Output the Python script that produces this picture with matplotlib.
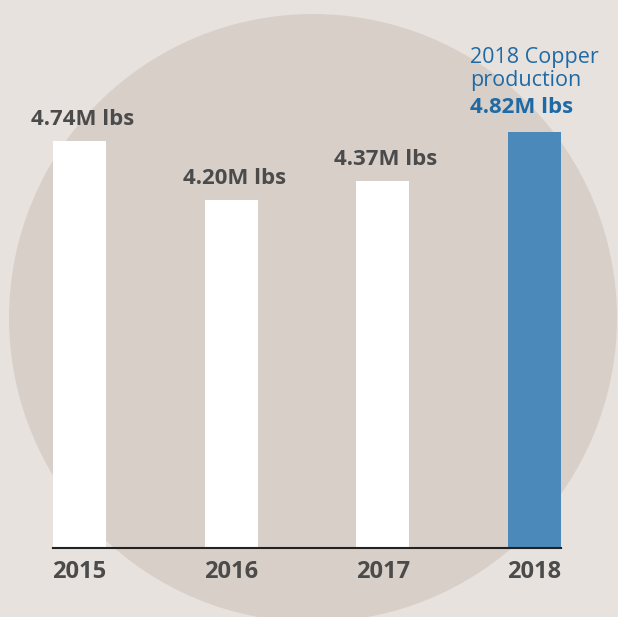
import matplotlib.pyplot as plt
from matplotlib.patches import Circle

years = ['2015', '2016', '2017', '2018']
production = [4.74, 4.20, 4.37, 4.82]  # million lbs
value_labels = ['4.74M lbs', '4.20M lbs', '4.37M lbs', '4.82M lbs']
bar_colors = ['white', 'white', 'white', '#4a89b9']

bg = '#e7e2de'
circle_col = '#d8cfc9'
gray = '#4b4b4b'
blue = '#1f6aa5'

plt.rcParams['font.family'] = ['Open Sans', 'DejaVu Sans']

W, H = 618, 617
fig = plt.figure(figsize=(W / 100, H / 100), dpi=100)
fig.patch.set_facecolor(bg)

# background axes in pixel coords for the big circle
bg_ax = fig.add_axes([0, 0, 1, 1], zorder=0)
bg_ax.set_xlim(0, W)
bg_ax.set_ylim(H, 0)
bg_ax.axis('off')
bg_ax.add_patch(Circle((313, 318), 304, facecolor=circle_col, edgecolor='none'))

ax = fig.add_axes([53 / W, 69 / H, 508 / W, 473 / H], zorder=1)
ax.set_facecolor('none')
x = list(range(len(years)))
bw = 0.35
ax.bar(x, production, width=bw, color=bar_colors, zorder=2)
ax.set_xlim(-bw / 2, 3 + bw / 2)
ax.set_ylim(1.02, 5.34)  # truncated axis like the original graphic

for s in ['top', 'right', 'left']:
    ax.spines[s].set_visible(False)
ax.spines['bottom'].set_color('#222222')
ax.spines['bottom'].set_linewidth(1.5)
ax.set_yticks([])
ax.set_xticks(x)
ax.set_xticklabels(years, fontsize=17, fontweight='bold', color=gray)
ax.tick_params(axis='x', length=0, pad=9)

for i in range(3):
    ax.annotate(value_labels[i], (i, production[i]), xytext=(3, 16),
                textcoords='offset pixels', ha='center', va='baseline',
                fontsize=16, fontweight='bold', color=gray, annotation_clip=False)

ax.annotate(value_labels[3], (2.575, production[3]), xytext=(0, 19),
            textcoords='offset pixels', ha='left', va='baseline', fontsize=16,
            fontweight='bold', color=blue, annotation_clip=False)
ax.annotate('production', (2.575, production[3]), xytext=(0, 46),
            textcoords='offset pixels', ha='left', va='baseline', fontsize=15.5,
            color=blue, annotation_clip=False)
ax.annotate('2018 Copper', (2.575, production[3]), xytext=(0, 69),
            textcoords='offset pixels', ha='left', va='baseline', fontsize=15.5,
            color=blue, annotation_clip=False)

fig.savefig('out.png', dpi=100, facecolor=bg)
